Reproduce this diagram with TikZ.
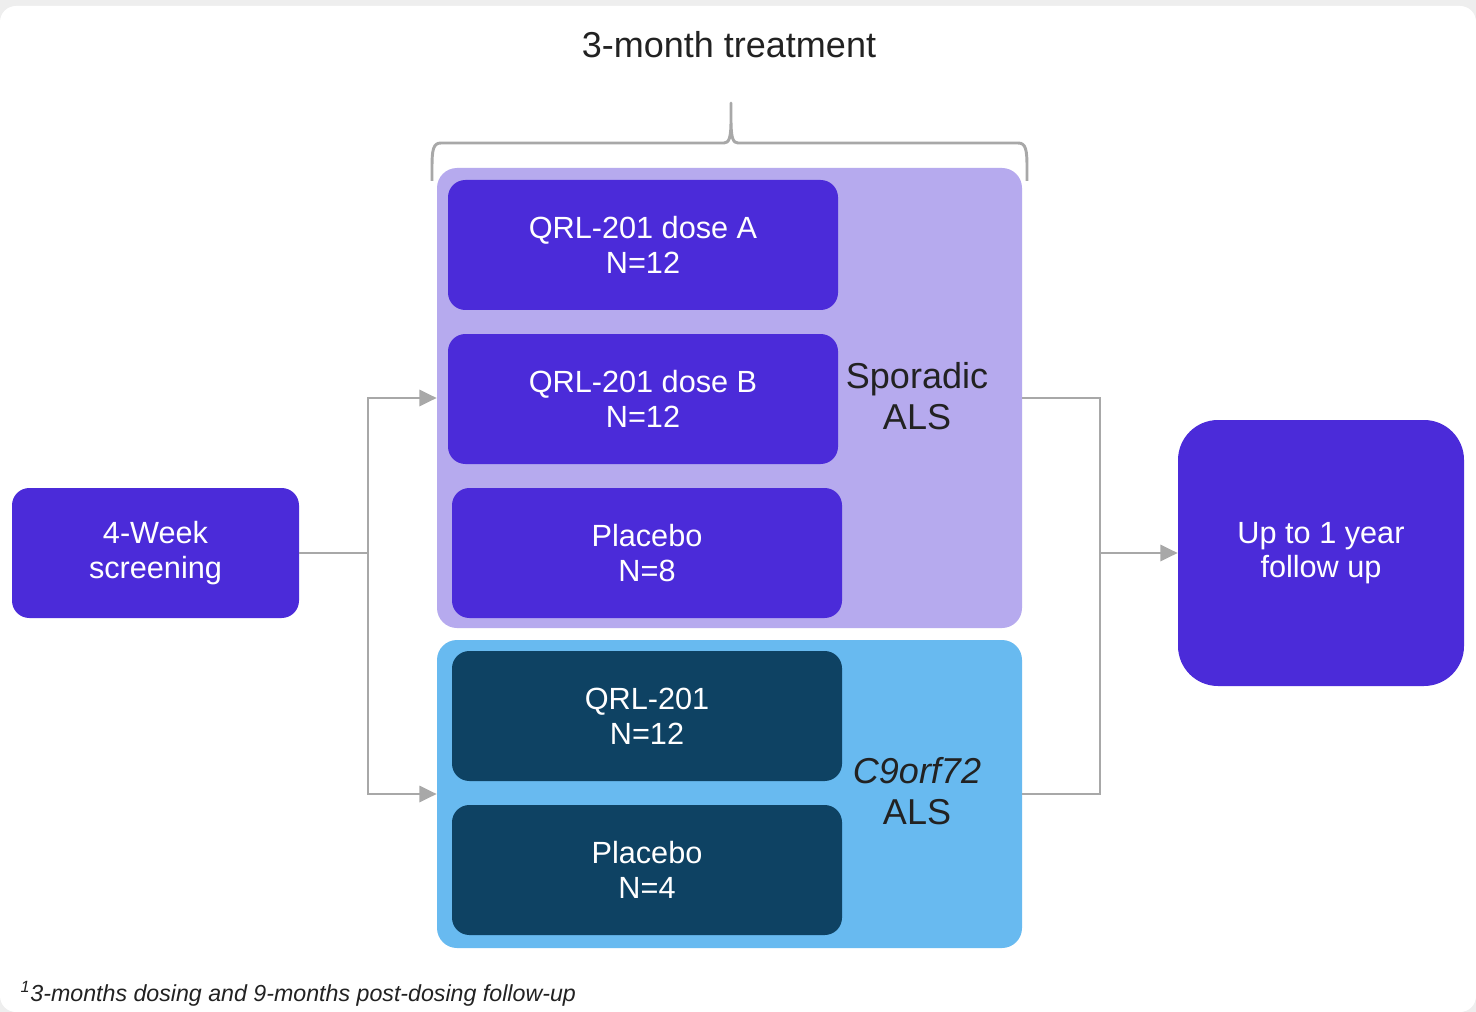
\documentclass[tikz,border=0pt]{standalone}
\usepackage{fontspec}
\setmainfont{Liberation Sans}
\usetikzlibrary{arrows.meta}
\definecolor{pur}{HTML}{4B2BD9}
\definecolor{lpur}{HTML}{B6AAEE}
\definecolor{lblue}{HTML}{68BAF0}
\definecolor{dteal}{HTML}{0E4263}
\definecolor{lineg}{HTML}{A8A8A8}
\definecolor{bgg}{HTML}{EEEEEE}
\definecolor{txt}{HTML}{222222}
\begin{document}
\begin{tikzpicture}[x=0.75pt,y=-0.75pt,
  box/.style={fill=pur, rounded corners=13pt, minimum width=292.5pt, minimum height=97.5pt,
    text=white, align=center, font=\fontsize{23}{26}\selectfont, inner sep=0pt},
  dbox/.style={box, fill=dteal},
  region/.style={rounded corners=15pt, minimum width=438.75pt, inner sep=0pt},
  rlabel/.style={text=txt, align=center, font=\fontsize{27}{31}\selectfont},
  conn/.style={draw=lineg, line width=2.2pt},
  arr/.style={conn, -{Triangle[length=13pt,width=12pt]}},
  bracel/.style={draw=lineg, line width=2.2pt}
]
\useasboundingbox (0,0) rectangle (1476,1012);
\fill[bgg] (0,0) rectangle (1476,1012);
\fill[white, rounded corners=12pt] (0,6) rectangle (1476,1012);

% regions
\node[region, fill=lpur, minimum height=345pt] (spor) at (729.5,398) {};
\node[region, fill=lblue, minimum height=231pt] (c9) at (729.5,794) {};

% boxes
\node[box, minimum width=215.25pt] (scr) at (155.5,553) {4-Week\\screening};
\node[box] (doseA) at (643,245) {QRL-201 dose A\\N=12};
\node[box] (doseB) at (643,399) {QRL-201 dose B\\N=12};
\node[box] (plac) at (647,553) {Placebo\\N=8};
\node[dbox] (qrl) at (647,716) {QRL-201\\N=12};
\node[dbox] (plac4) at (647,870) {Placebo\\N=4};
\node[box, minimum width=214.5pt, minimum height=199.5pt, rounded corners=30pt] (fu) at (1321,553) {Up to 1 year\\follow up};

% labels
\node[rlabel] (sporlab) at (917,396) {Sporadic\\ALS};
\node[rlabel] (c9lab) at (917,791) {\textit{C9orf72}\\ALS};
\node[rlabel, anchor=base] (title) at (729,58) {3-month treatment};
\node[anchor=base west, text=txt, font=\fontsize{17.4}{20}\selectfont\itshape] (foot) at (16,1001) {\textsuperscript{1}3-months dosing and 9-months post-dosing follow-up};

% connectors
\coordinate (lj) at (368,553);
\coordinate (rj) at (1100,553);
\draw[conn] (scr.east) -- (lj);
\draw[arr] (lj) |- (spor.west);
\draw[arr] (lj) |- (c9.west);
\draw[conn] (spor.east) -| (rj) |- (c9.east);
\draw[arr] (rj) -- (fu.west);

% brace
\draw[bracel, line join=round] (432,181) -- (432,168) .. controls (432,150) and (433,143) .. (441,143)
  -- (724,143) .. controls (729,143) and (731,138) .. (731,120) -- (731,103)
  -- (731,120) .. controls (731,138) and (733,143) .. (738,143)
  -- (1018,143) .. controls (1026,143) and (1027,150) .. (1027,168) -- (1027,181);
\end{tikzpicture}
\end{document}
